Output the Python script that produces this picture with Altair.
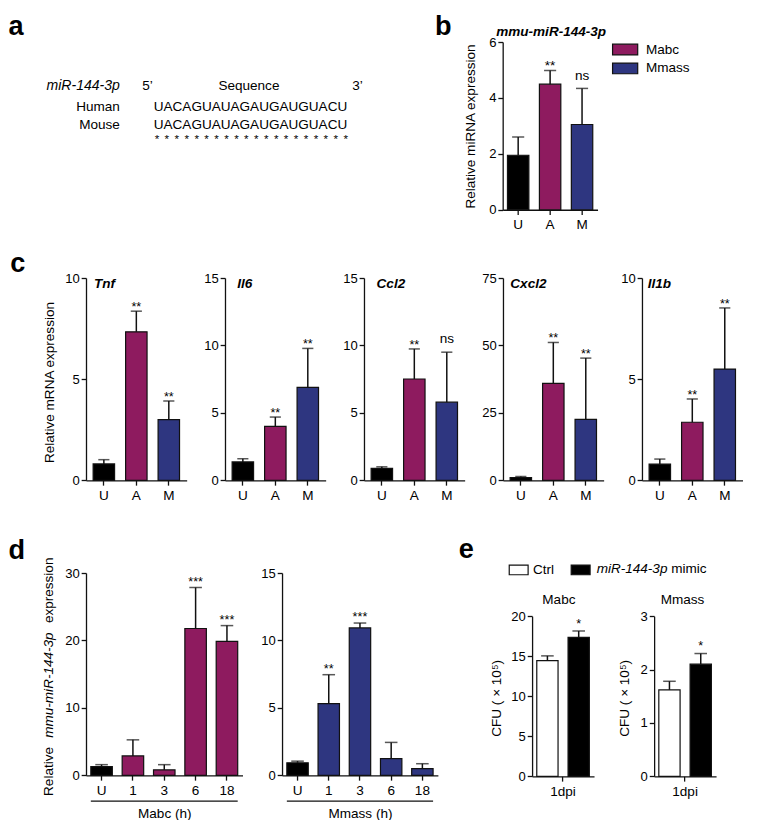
import altair as alt
import pandas as pd

S = 0.968
FONT = "Liberation Sans"
INK = "#111111"


def p(v):
    return round(v * S, 2)


# ---------------- data ----------------
seq_head = ["miR-144-3p", "5\u2019", "Sequence", "3\u2019"]
seq_species = ["Human", "Mouse"]
seq_strings = ["UACAGUAUAGAUGAUGUACU", "UACAGUAUAGAUGAUGUACU"]
seq_marks = ["*"] * 20

inf_groups = ["Uninfected", "Mabc", "Mmass"]
inf_colors = ["#000000", "#8E1B5F", "#2E3680"]

b_title = "mmu-miR-144-3p"
b_labels = ["U", "A", "M"]
b_mean = [1.95, 4.49, 3.05]
b_upper = [2.60, 4.98, 4.34]
b_sig = ["", "**", "ns"]
b_ticks = [0, 2, 4, 6]

c_genes = ["Tnf", "Il6", "Ccl2", "Cxcl2", "Il1b"]
c_labels = ["U", "A", "M"]
c_ticks = [[0, 5, 10], [0, 5, 10, 15], [0, 5, 10, 15], [0, 25, 50, 75], [0, 5, 10]]
c_mean = [[0.81, 7.34, 3.00], [1.36, 4.00, 6.89], [0.89, 7.51, 5.79],
          [1.0, 35.9, 22.6], [0.80, 2.87, 5.50]]
c_upper = [[1.02, 8.36, 3.92], [1.60, 4.69, 9.78], [1.00, 9.74, 9.50],
           [1.4, 51.1, 45.3], [1.05, 4.02, 8.52]]
c_sig = [["", "**", "**"], ["", "**", "**"], ["", "**", "ns"],
         ["", "**", "**"], ["", "**", "**"]]

d_labels = ["U", "1", "3", "6", "18"]
d_titles = ["Mabc (h)", "Mmass (h)"]
d_groups = [["Uninfected"] + ["Mabc"] * 4, ["Uninfected"] + ["Mmass"] * 4]
d_ticks = [[0, 10, 20, 30], [0, 5, 10, 15]]
d_mean = [[1.29, 2.87, 0.81, 21.77, 19.86], [0.93, 5.31, 10.93, 1.24, 0.50]]
d_upper = [[1.58, 5.26, 1.58, 27.85, 22.20], [1.05, 7.46, 11.29, 2.44, 0.86]]
d_sig = [["", "", "", "***", "***"], ["", "**", "***", "", ""]]
d_ytitle = ["Relative", "mmu-miR-144-3p", "expression"]

e_titles = ["Mabc", "Mmass"]
e_cond = "1dpi"
e_groups = ["Ctrl", "miR-144-3p mimic"]
e_legend_parts = ["miR-144-3p", "mimic"]
e_colors = ["#ffffff", "#000000"]
e_ticks = [[0, 5, 10, 15, 20], [0, 1, 2, 3]]
e_mean = [[14.44, 17.34], [1.62, 2.10]]
e_upper = [[15.04, 18.15], [1.78, 2.30]]
e_sig = [["", "*"], ["", "*"]]
e_ytitle = "CFU ( \u00d7 10\u2075)"


# ---------------- helpers ----------------
def txt(text, x, y, size=14, weight="normal", style="normal", align="left",
        baseline="alphabetic", angle=0):
    return alt.Chart(pd.DataFrame({"t": [text]})).mark_text(
        font=FONT, fontSize=p(size), fontWeight=weight, fontStyle=style,
        align=align, baseline=baseline, angle=angle, color="black"
    ).encode(x=alt.value(p(x)), y=alt.value(p(y)), text="t:N")


def frame(y1, y2, x=-80):
    return alt.Chart(pd.DataFrame({"v": [0]})).mark_rule(
        color="white", opacity=0, strokeWidth=0.1
    ).encode(x=alt.value(p(x)), y=alt.value(p(y1)), y2=alt.value(p(y2)))


def spacer(w):
    return alt.Chart(pd.DataFrame({"v": [0]})).mark_point(opacity=0).encode(
        x=alt.value(0), y=alt.value(0)).properties(width=p(w), height=p(10))


def bar_layers(df, xenc, yscale, yaxis, colorenc, star_dy, cap, star_size=13, xoff=None):
    def enc(**kw):
        kw["x"] = xenc
        if xoff is not None:
            kw["xOffset"] = xoff
        return kw
    ym = alt.Y("mean:Q", scale=yscale, axis=yaxis, stack=False)
    yu = alt.Y("upper:Q", scale=yscale, axis=yaxis)
    base = alt.Chart(df)
    bars = base.mark_bar(stroke=INK, strokeWidth=1.2).encode(**enc(y=ym, color=colorenc))
    err = base.mark_rule(color=INK, strokeWidth=1.5).encode(**enc(y=ym, y2="upper:Q"))
    capm = base.mark_tick(color=INK, thickness=1.5, size=p(cap)).encode(**enc(y=yu))
    stars = base.transform_filter("datum.sig != '' && datum.sig != 'ns'").mark_text(
        font=FONT, fontSize=p(star_size), baseline="alphabetic", dy=p(star_dy), color="black"
    ).encode(**enc(y=yu, text="sig:N"))
    ns = base.transform_filter("datum.sig == 'ns'").mark_text(
        font=FONT, fontSize=p(14), baseline="alphabetic", dy=p(-9), color="black"
    ).encode(**enc(y=yu, text="sig:N"))
    return [bars, err, capm, stars, ns]


def rot_title(x, y):
    return dict(titleX=p(x), titleY=p(y), titleAngle=270, titleAlign="center",
                titleBaseline="middle")


inf_scale = alt.Scale(domain=inf_groups, range=inf_colors)
RES = dict(x="independent", y="independent", color="independent")

# ---------------- row 1: a + b ----------------
a_layers = [
    frame(-34.7, 207.3),
    txt("a", -80, -7.4, size=28, weight="bold"),
    txt(seq_head[0], 35, 50, style="italic", align="right", size=14.5),
    txt(seq_head[1], 58, 50),
    txt(seq_head[2], 168.3, 50, align="center"),
    txt(seq_head[3], 275, 50),
    txt(seq_species[0], 35, 71, align="right"),
    txt(seq_strings[0], 70, 71),
    txt(seq_species[1], 35, 90, align="right"),
    txt(seq_strings[1], 70, 90),
    alt.Chart(pd.DataFrame({"i": list(range(len(seq_marks))), "m": seq_marks})).mark_text(
        font=FONT, fontSize=p(12), baseline="alphabetic", color="black"
    ).encode(
        x=alt.X("i:O", axis=None,
                scale=alt.Scale(type="point", range=[p(73.3), p(268.3)], padding=0)),
        y=alt.value(p(104.5)), text="m:N"),
]
a_chart = alt.layer(*a_layers).properties(width=p(420), height=p(173.3))

b_df = pd.DataFrame({"label": b_labels, "grp": inf_groups, "mean": b_mean,
                     "upper": b_upper, "sig": b_sig})
b_x = alt.X("label:N", sort=b_labels,
            scale=alt.Scale(paddingInner=0.33, paddingOuter=0.15), axis=alt.Axis(title=None))
b_yscale = alt.Scale(domain=[0, b_ticks[-1]], nice=False)
b_yaxis = alt.Axis(values=b_ticks, title="Relative miRNA expression", **rot_title(-33.3, 86.8))
b_legend = alt.Legend(
    values=["Mabc", "Mmass"], orient="none", legendX=p(119.5), legendY=p(0.8), title=None,
    symbolType="M-2.36,-1H2.36V1H-2.36Z", symbolSize=p(11) ** 2,
    symbolStrokeColor=INK, symbolStrokeWidth=1.2, labelFont=FONT, labelFontSize=p(14),
    labelColor="black", labelOffset=p(14.5), rowPadding=p(3), padding=0, direction="vertical")
b_color = alt.Color("grp:N", scale=inf_scale, legend=b_legend)
b_chart = alt.layer(
    *bar_layers(b_df, b_x, b_yscale, b_yaxis, b_color, star_dy=-0.8, cap=12.5, star_size=14),
    txt("b", -70, -7.4, size=28, weight="bold"),
    txt(b_title, -6.7, -6, weight="bold", style="italic"),
).properties(width=p(98), height=p(173.3))

row1 = alt.hconcat(a_chart, b_chart, spacing=p(10), bounds="flush").resolve_scale(**RES)

# ---------------- row 2: c ----------------
c_dx = [8.3, 12.7, 13.0, 7.6, 6.0]
c_panels = []
for k, gene in enumerate(c_genes):
    df = pd.DataFrame({"label": c_labels, "grp": inf_groups, "mean": c_mean[k],
                       "upper": c_upper[k], "sig": c_sig[k]})
    xenc = alt.X("label:N", sort=c_labels,
                 scale=alt.Scale(paddingInner=0.34, paddingOuter=0.22), axis=alt.Axis(title=None))
    yscale = alt.Scale(domain=[0, c_ticks[k][-1]], nice=False)
    if k == 0:
        yaxis = alt.Axis(values=c_ticks[k], title="Relative mRNA expression",
                         **rot_title(-38, 107.5))
    else:
        yaxis = alt.Axis(values=c_ticks[k], title=None)
    layers = bar_layers(df, xenc, yscale, yaxis, alt.Color("grp:N", scale=inf_scale, legend=None),
                        star_dy=0, cap=11.5)
    layers.append(txt(gene, c_dx[k], 10, weight="bold", style="italic"))
    if k == 0:
        layers += [frame(-35.3, 246.7), txt("c", -78.3, -6.6, size=28, weight="bold")]
    c_panels.append(alt.layer(*layers).properties(width=p(104), height=p(209)))

row2 = alt.hconcat(*c_panels, spacing=p(39.25), bounds="flush").resolve_scale(**RES)

# ---------------- row 3: d + e ----------------
d_widths = [161.7, 161.0]
d_panels = []
PI_D, PO_D = 0.314, 0.154
for k in range(2):
    df = pd.DataFrame({"label": d_labels, "grp": d_groups[k], "mean": d_mean[k],
                       "upper": d_upper[k], "sig": d_sig[k]})
    w = d_widths[k]
    step = w / (len(d_labels) - PI_D + 2 * PO_D)
    off = PO_D * step
    xenc = alt.X("label:N", sort=d_labels,
                 scale=alt.Scale(paddingInner=PI_D, paddingOuter=PO_D),
                 axis=alt.Axis(title=d_titles[k], titleY=p(43.3), titleBaseline="alphabetic"))
    yscale = alt.Scale(domain=[0, d_ticks[k][-1]], nice=False)
    yaxis = alt.Axis(values=d_ticks[k], title=None)
    layers = bar_layers(df, xenc, yscale, yaxis, alt.Color("grp:N", scale=inf_scale, legend=None),
                        star_dy=-2, cap=13)
    layers.append(alt.Chart(pd.DataFrame({"v": [0]})).mark_rule(color=INK, strokeWidth=1.3).encode(
        x=alt.value(p(off)), x2=alt.value(p(w - off)), y=alt.value(p(235.6))))
    if k == 0:
        layers += [
            frame(-57.7, 254.3),
            txt("d", -80, -14.4, size=28, weight="bold"),
            txt(d_ytitle[0], -38, 205.0, align="center", baseline="middle", angle=270),
            txt(d_ytitle[1], -38, 115.8, align="center", baseline="middle", angle=270,
                style="italic"),
            txt(d_ytitle[2], -38, 17.9, align="center", baseline="middle", angle=270),
        ]
    d_panels.append(alt.layer(*layers).properties(width=p(w), height=p(209)))

e_panels = []
e_title_x = [27.7, 29.3]
e_ytitle_x = [-37, -31]
for k in range(2):
    df = pd.DataFrame({"cond": [e_cond] * 2, "grp": e_groups, "mean": e_mean[k],
                       "upper": e_upper[k], "sig": e_sig[k]})
    xenc = alt.X("cond:N", scale=alt.Scale(paddingInner=0, paddingOuter=0),
                 axis=alt.Axis(title=None))
    xoff = alt.XOffset("grp:N", sort=e_groups,
                       scale=alt.Scale(paddingInner=0.32, paddingOuter=0.15))
    yscale = alt.Scale(domain=[0, e_ticks[k][-1]], nice=False, range=[p(210), p(44.6)])
    yaxis = alt.Axis(values=e_ticks[k], title=e_ytitle, **rot_title(e_ytitle_x[k], 129))
    if k == 0:
        leg = alt.Legend(
            orient="none", direction="horizontal", legendX=p(-20.85), legendY=p(-10.7),
            title=None, symbolType="M-1.95,-1H1.95V1H-1.95Z", symbolSize=p(10) ** 2,
            symbolStrokeColor=INK, symbolStrokeWidth=1.2, labelFont=FONT,
            labelFontSize=p(14), labelColor="black", labelOffset=p(7.75),
            columnPadding=p(13.4), padding=0,
            labelExpr="datum.label == '%s' ? datum.label : ''" % e_groups[0])
    else:
        leg = None
    colorenc = alt.Color("grp:N", scale=alt.Scale(domain=e_groups, range=e_colors), legend=leg)
    layers = bar_layers(df, xenc, yscale, yaxis, colorenc, star_dy=-3.5, cap=13, xoff=xoff)
    layers.append(txt(e_titles[k], e_title_x[k], 31.6, align="center"))
    if k == 0:
        layers += [
            txt("e", -75.7, -16, size=28, weight="bold"),
            txt(e_legend_parts[0], 66.7, -3.7, style="italic", baseline="middle"),
            txt(e_legend_parts[1], 143.7, -3.7, baseline="middle"),
        ]
    e_panels.append(alt.layer(*layers).properties(width=p(64), height=p(210)))

row3 = alt.hconcat(d_panels[0], spacer(10), d_panels[1], spacer(66.3), e_panels[0],
                   spacer(31), e_panels[1], spacing=p(15), bounds="flush").resolve_scale(**RES)

chart = alt.vconcat(row1, row2, row3, spacing=0).resolve_scale(**RES).properties(padding=0)
chart = chart.configure_view(strokeWidth=0).configure_axis(
    grid=False, domainColor=INK, domainWidth=1.3, tickColor=INK, tickWidth=1.3,
    tickSize=p(5), labelColor="black", titleColor="black", labelFont=FONT, titleFont=FONT,
    labelFontSize=p(13.5), titleFontSize=p(14), titleFontWeight="normal", labelPadding=p(2)
).configure_axisX(labelAngle=0, labelFontSize=p(14), labelPadding=p(3))

chart.save("out.html", embed_options={"renderer": "svg", "actions": False})
